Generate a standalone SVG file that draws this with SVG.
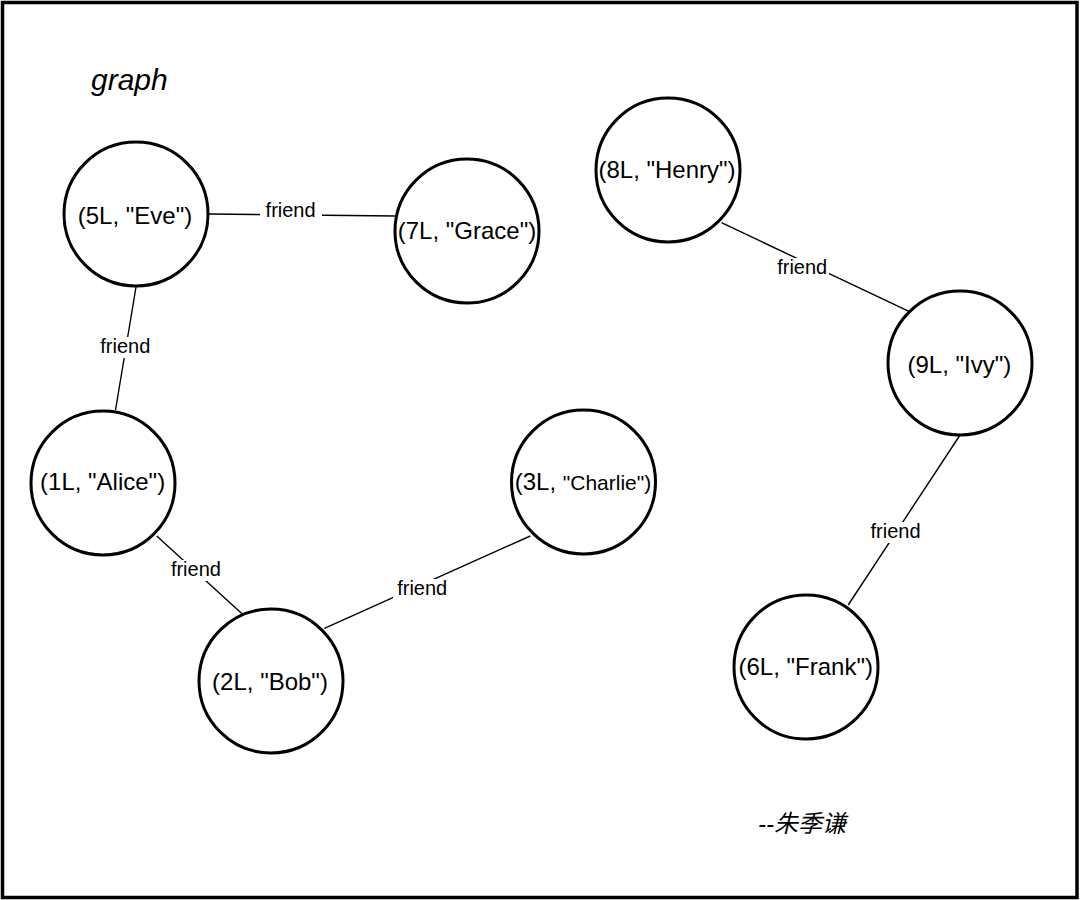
<svg xmlns="http://www.w3.org/2000/svg" width="1080" height="900" viewBox="0 0 1080 900">
<style>
.frame{fill:#fff;stroke:#000;stroke-width:3.5}
.node{fill:#fff;stroke:#000;stroke-width:3}
.nt{font-family:"Liberation Sans",Arial,sans-serif;font-size:24px;fill:#000;text-anchor:middle}
.edge{stroke:#000;stroke-width:1.4;fill:none}
.lbg{fill:#fff}
.lt{font-family:"Liberation Sans",Arial,sans-serif;font-size:20px;fill:#000;text-anchor:middle}
.title{font-family:"Liberation Sans",Arial,sans-serif;font-size:30px;font-style:italic;fill:#000}
.sig{font-family:"Liberation Sans","Noto Sans CJK SC",sans-serif;font-size:24px;font-style:italic;fill:#000}
</style>
<rect class="frame" x="2.5" y="2.5" width="1074.5" height="895"/>
<text class="title" x="91" y="90">graph</text>
<g id="connectors">
<line class="edge" x1="209" y1="214" x2="396" y2="216"/>
<line class="edge" x1="136" y1="287" x2="115.5" y2="410"/>
<line class="edge" x1="156.7" y1="536" x2="244.5" y2="616"/>
<line class="edge" x1="324.4" y1="628.3" x2="530.3" y2="536"/>
<line class="edge" x1="721.5" y1="222.7" x2="909.5" y2="311.7"/>
<line class="edge" x1="959.4" y1="436" x2="848.2" y2="605"/>
<rect class="lbg" x="260" y="201" width="62" height="21"/>
<text class="lt" x="290.6" y="217.3">friend</text>
<rect class="lbg" x="96" y="337" width="60" height="21"/>
<text class="lt" x="125.3" y="353.3">friend</text>
<rect class="lbg" x="166" y="560" width="60" height="21"/>
<text class="lt" x="195.9" y="576">friend</text>
<rect class="lbg" x="393" y="579" width="59" height="21"/>
<text class="lt" x="422.2" y="595">friend</text>
<rect class="lbg" x="775" y="258" width="54" height="21"/>
<text class="lt" x="802.2" y="274">friend</text>
<rect class="lbg" x="866" y="522" width="60" height="21"/>
<text class="lt" x="895.5" y="538.3">friend</text>
</g>
<g id="n5"><circle class="node" cx="136" cy="214" r="72"/><text class="nt" x="135" y="224">(5L, "Eve")</text></g>
<g id="n7"><circle class="node" cx="467" cy="231" r="72"/><text class="nt" x="467" y="239.3">(7L, "Grace")</text></g>
<g id="n8"><circle class="node" cx="668" cy="170" r="72"/><text class="nt" x="667" y="178.3">(8L, "Henry")</text></g>
<g id="n9"><circle class="node" cx="960" cy="363" r="72"/><text class="nt" x="959.4" y="373">(9L, "Ivy")</text></g>
<g id="n1"><circle class="node" cx="103" cy="483" r="72"/><text class="nt" x="102.6" y="490">(1L, "Alice")</text></g>
<g id="n3"><circle class="node" cx="583.5" cy="482" r="72"/><text class="nt" x="583" y="490">(3L, <tspan font-size="21">"Charlie")</tspan></text></g>
<g id="n2"><circle class="node" cx="271" cy="681" r="72"/><text class="nt" x="270" y="690">(2L, "Bob")</text></g>
<g id="n6"><circle class="node" cx="806" cy="667" r="72"/><text class="nt" x="805.7" y="675">(6L, "Frank")</text></g>
<text class="sig" x="758" y="832">--朱季谦</text>
</svg>
